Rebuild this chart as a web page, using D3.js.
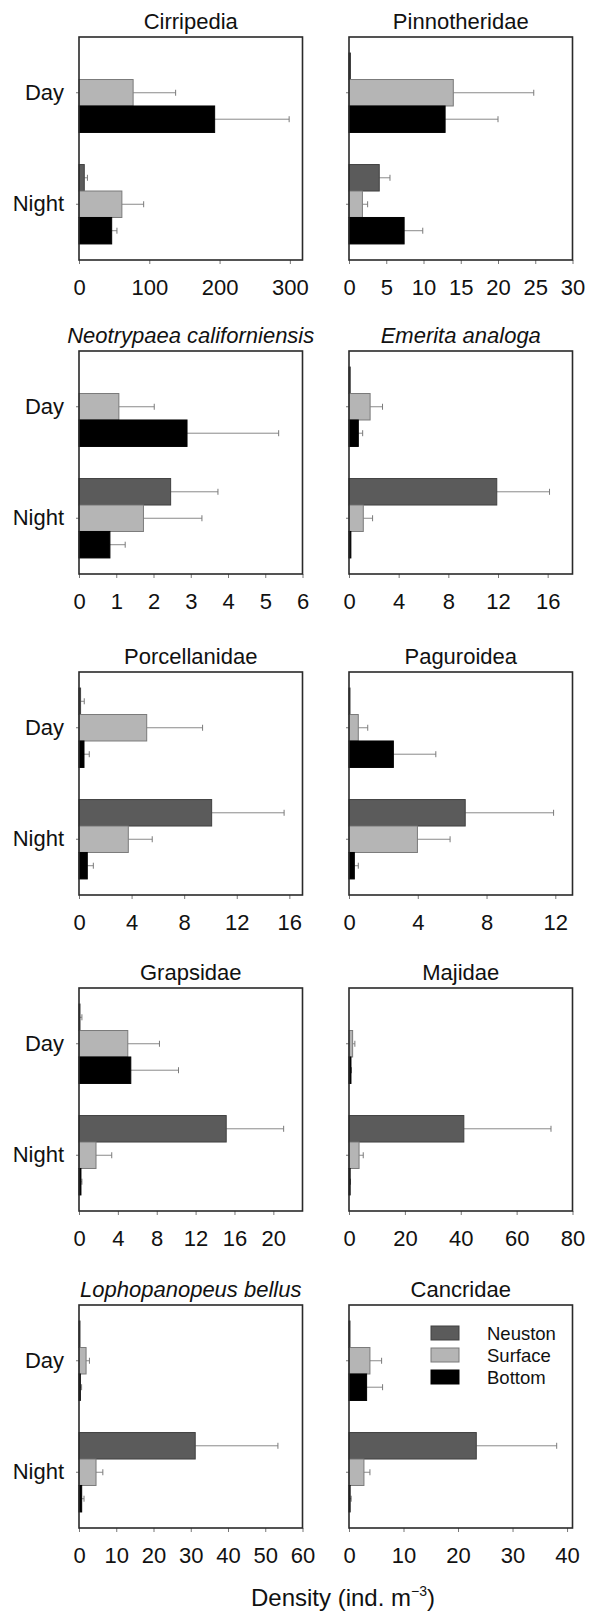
<!DOCTYPE html>
<html>
<head>
<meta charset="utf-8">
<script src="https://cdn.jsdelivr.net/npm/d3@7"></script>
<style>
  html, body { margin: 0; padding: 0; background: #fff; }
  svg { display: block; font-family: "Liberation Sans", Arial, sans-serif; }
</style>
</head>
<body>
<svg id="chart" width="589" height="1611"></svg>
<script>
// ---------- data ----------
const taxa = ["Cirripedia", "Pinnotheridae", "Neotrypaea californiensis", "Emerita analoga",
  "Porcellanidae", "Paguroidea", "Grapsidae", "Majidae", "Lophopanopeus bellus", "Cancridae"];
const italicTaxa = [false, false, true, true, false, false, false, false, true, false];
const periods = ["Day", "Night"];
const series = ["Neuston", "Surface", "Bottom"];
const xMax = [318, 30, 6, 18, 17, 13, 23, 80, 60, 41];
const xTicks = [
  [0, 100, 200, 300],
  [0, 5, 10, 15, 20, 25, 30],
  [0, 1, 2, 3, 4, 5, 6],
  [0, 4, 8, 12, 16],
  [0, 4, 8, 12, 16],
  [0, 4, 8, 12],
  [0, 4, 8, 12, 16, 20],
  [0, 20, 40, 60, 80],
  [0, 10, 20, 30, 40, 50, 60],
  [0, 10, 20, 30, 40]
];
// mean density [Day, Night] per taxon
const neustonMean = [[0, 7.5], [0.2, 4.06], [0, 2.46], [0.1, 11.9], [0.12, 10.09],
  [0.05, 6.76], [0.1, 15.15], [0, 41.1], [0.1, 31.2], [0.1, 23.35]];
const surfaceMean = [[77, 61], [14.0, 1.8], [1.07, 1.73], [1.7, 1.15], [5.15, 3.75],
  [0.54, 3.98], [5.02, 1.75], [1.3, 3.6], [1.9, 4.57], [3.84, 2.74]];
const bottomMean = [[193, 46.5], [12.9, 7.4], [2.9, 0.83], [0.75, 0.15], [0.38, 0.63],
  [2.58, 0.31], [5.33, 0.2], [0.7, 0.4], [0.35, 0.72], [3.23, 0.2]];
// standard error [Day, Night] per taxon
const neustonSE = [[0, 4.5], [0, 1.44], [0, 1.27], [0, 4.25], [0.28, 5.51],
  [0, 5.14], [0.2, 5.91], [0, 31.2], [0, 22.2], [0, 14.75]];
const surfaceSE = [[60.5, 31], [10.8, 0.7], [0.95, 1.57], [1.0, 0.75], [4.25, 1.82],
  [0.55, 1.9], [3.26, 1.62], [0.8, 1.5], [0.9, 1.83], [2.14, 1.1]];
const bottomSE = [[106, 7.5], [7.1, 2.5], [2.46, 0.41], [0.35, 0], [0.4, 0.46],
  [2.47, 0.23], [4.91, 0.1], [0.2, 0.1], [0.35, 0.63], [2.93, 0.2]];

const colors = { Neuston: "#5b5b5b", Surface: "#b5b5b5", Bottom: "#000000" };
const strokes = { Neuston: "#404040", Surface: "#7a7a7a", Bottom: "#000000" };

// ---------- layout ----------
const colX = [79, 349];
const rowY = [37, 351, 672, 988, 1305];
const pw = 223.5, ph = 223;
const fontSize = 22;

const svg = d3.select("#chart");

taxa.forEach((name, i) => {
  const col = i % 2, row = Math.floor(i / 2);
  const g = svg.append("g").attr("transform", `translate(${colX[col]},${rowY[row]})`);
  const x = d3.scaleLinear().domain([0, xMax[i]]).range([0, pw]);
  const y = d3.scaleBand().domain(periods).range([0, ph]).paddingInner(0.288).paddingOuter(0.144);
  const ys = d3.scaleBand().domain(series).range([0, y.bandwidth()]);

  const means = { Neuston: neustonMean[i], Surface: surfaceMean[i], Bottom: bottomMean[i] };
  const ses = { Neuston: neustonSE[i], Surface: surfaceSE[i], Bottom: bottomSE[i] };
  const rows = [];
  periods.forEach((p, pi) => series.forEach(s => {
    rows.push({ period: p, series: s, mean: means[s][pi], se: ses[s][pi] });
  }));

  // axes
  const xa = g.append("g").attr("transform", `translate(0,${ph})`)
    .call(d3.axisBottom(x).tickValues(xTicks[i]).tickSize(4).tickPadding(15).tickFormat(d3.format("d")));
  xa.select(".domain").remove();
  xa.selectAll("line").attr("stroke", "#777");
  xa.selectAll("text").attr("font-size", fontSize).attr("fill", "#111")
    .attr("font-family", "Liberation Sans, Arial, sans-serif");

  const ya = g.append("g").call(d3.axisLeft(y).tickSize(3).tickPadding(12));
  ya.select(".domain").remove();
  ya.selectAll("line").attr("stroke", "#777");
  ya.selectAll("text").attr("font-size", fontSize).attr("fill", "#111")
    .attr("font-family", "Liberation Sans, Arial, sans-serif");
  if (col === 1) ya.selectAll("text").remove();

  // error bars
  const eb = rows.filter(d => d.se > 0);
  g.selectAll(".err").data(eb).join("line")
    .attr("x1", d => x(d.mean)).attr("x2", d => x(d.mean + d.se))
    .attr("y1", d => y(d.period) + ys(d.series) + ys.bandwidth() / 2)
    .attr("y2", d => y(d.period) + ys(d.series) + ys.bandwidth() / 2)
    .attr("stroke", "#8a8a8a").attr("stroke-width", 1);
  g.selectAll(".cap").data(eb).join("line")
    .attr("x1", d => x(d.mean + d.se)).attr("x2", d => x(d.mean + d.se))
    .attr("y1", d => y(d.period) + ys(d.series) + ys.bandwidth() / 2 - 3)
    .attr("y2", d => y(d.period) + ys(d.series) + ys.bandwidth() / 2 + 3)
    .attr("stroke", "#7a7a7a").attr("stroke-width", 1);

  // bars
  g.selectAll(".bar").data(rows.filter(d => d.mean > 0)).join("rect")
    .attr("x", x(0))
    .attr("y", d => y(d.period) + ys(d.series))
    .attr("width", d => Math.max(1, x(d.mean) - x(0)))
    .attr("height", ys.bandwidth())
    .attr("fill", d => colors[d.series])
    .attr("stroke", d => strokes[d.series]).attr("stroke-width", 1);

  // frame
  g.append("rect").attr("x", 0).attr("y", 0).attr("width", pw).attr("height", ph)
    .attr("fill", "none").attr("stroke", "#2a2a2a").attr("stroke-width", 1.6);

  // title
  g.append("text").attr("x", pw / 2).attr("y", -8).attr("text-anchor", "middle")
    .attr("font-size", fontSize).attr("fill", "#111")
    .attr("font-style", italicTaxa[i] ? "italic" : "normal")
    .text(name);

  // legend in last panel
  if (i === taxa.length - 1) {
    const lg = g.append("g").attr("transform", "translate(82,-16)");
    series.forEach((s, si) => {
      lg.append("rect").attr("x", 0).attr("y", 37 + si * 22).attr("width", 28).attr("height", 14)
        .attr("fill", colors[s]).attr("stroke", strokes[s]).attr("stroke-width", 1);
      lg.append("text").attr("x", 56).attr("y", 51 + si * 22)
        .attr("font-size", 18.5).attr("fill", "#111").text(s);
    });
  }
});

// axis title
const at = svg.append("text").attr("x", 343).attr("y", 1606).attr("text-anchor", "middle")
  .attr("font-size", 24).attr("fill", "#111");
at.append("tspan").text("Density (ind. m");
at.append("tspan").attr("font-size", 14).attr("dy", -10).text("\u22123");
at.append("tspan").attr("dy", 10).text(")");
</script>
</body>
</html>
